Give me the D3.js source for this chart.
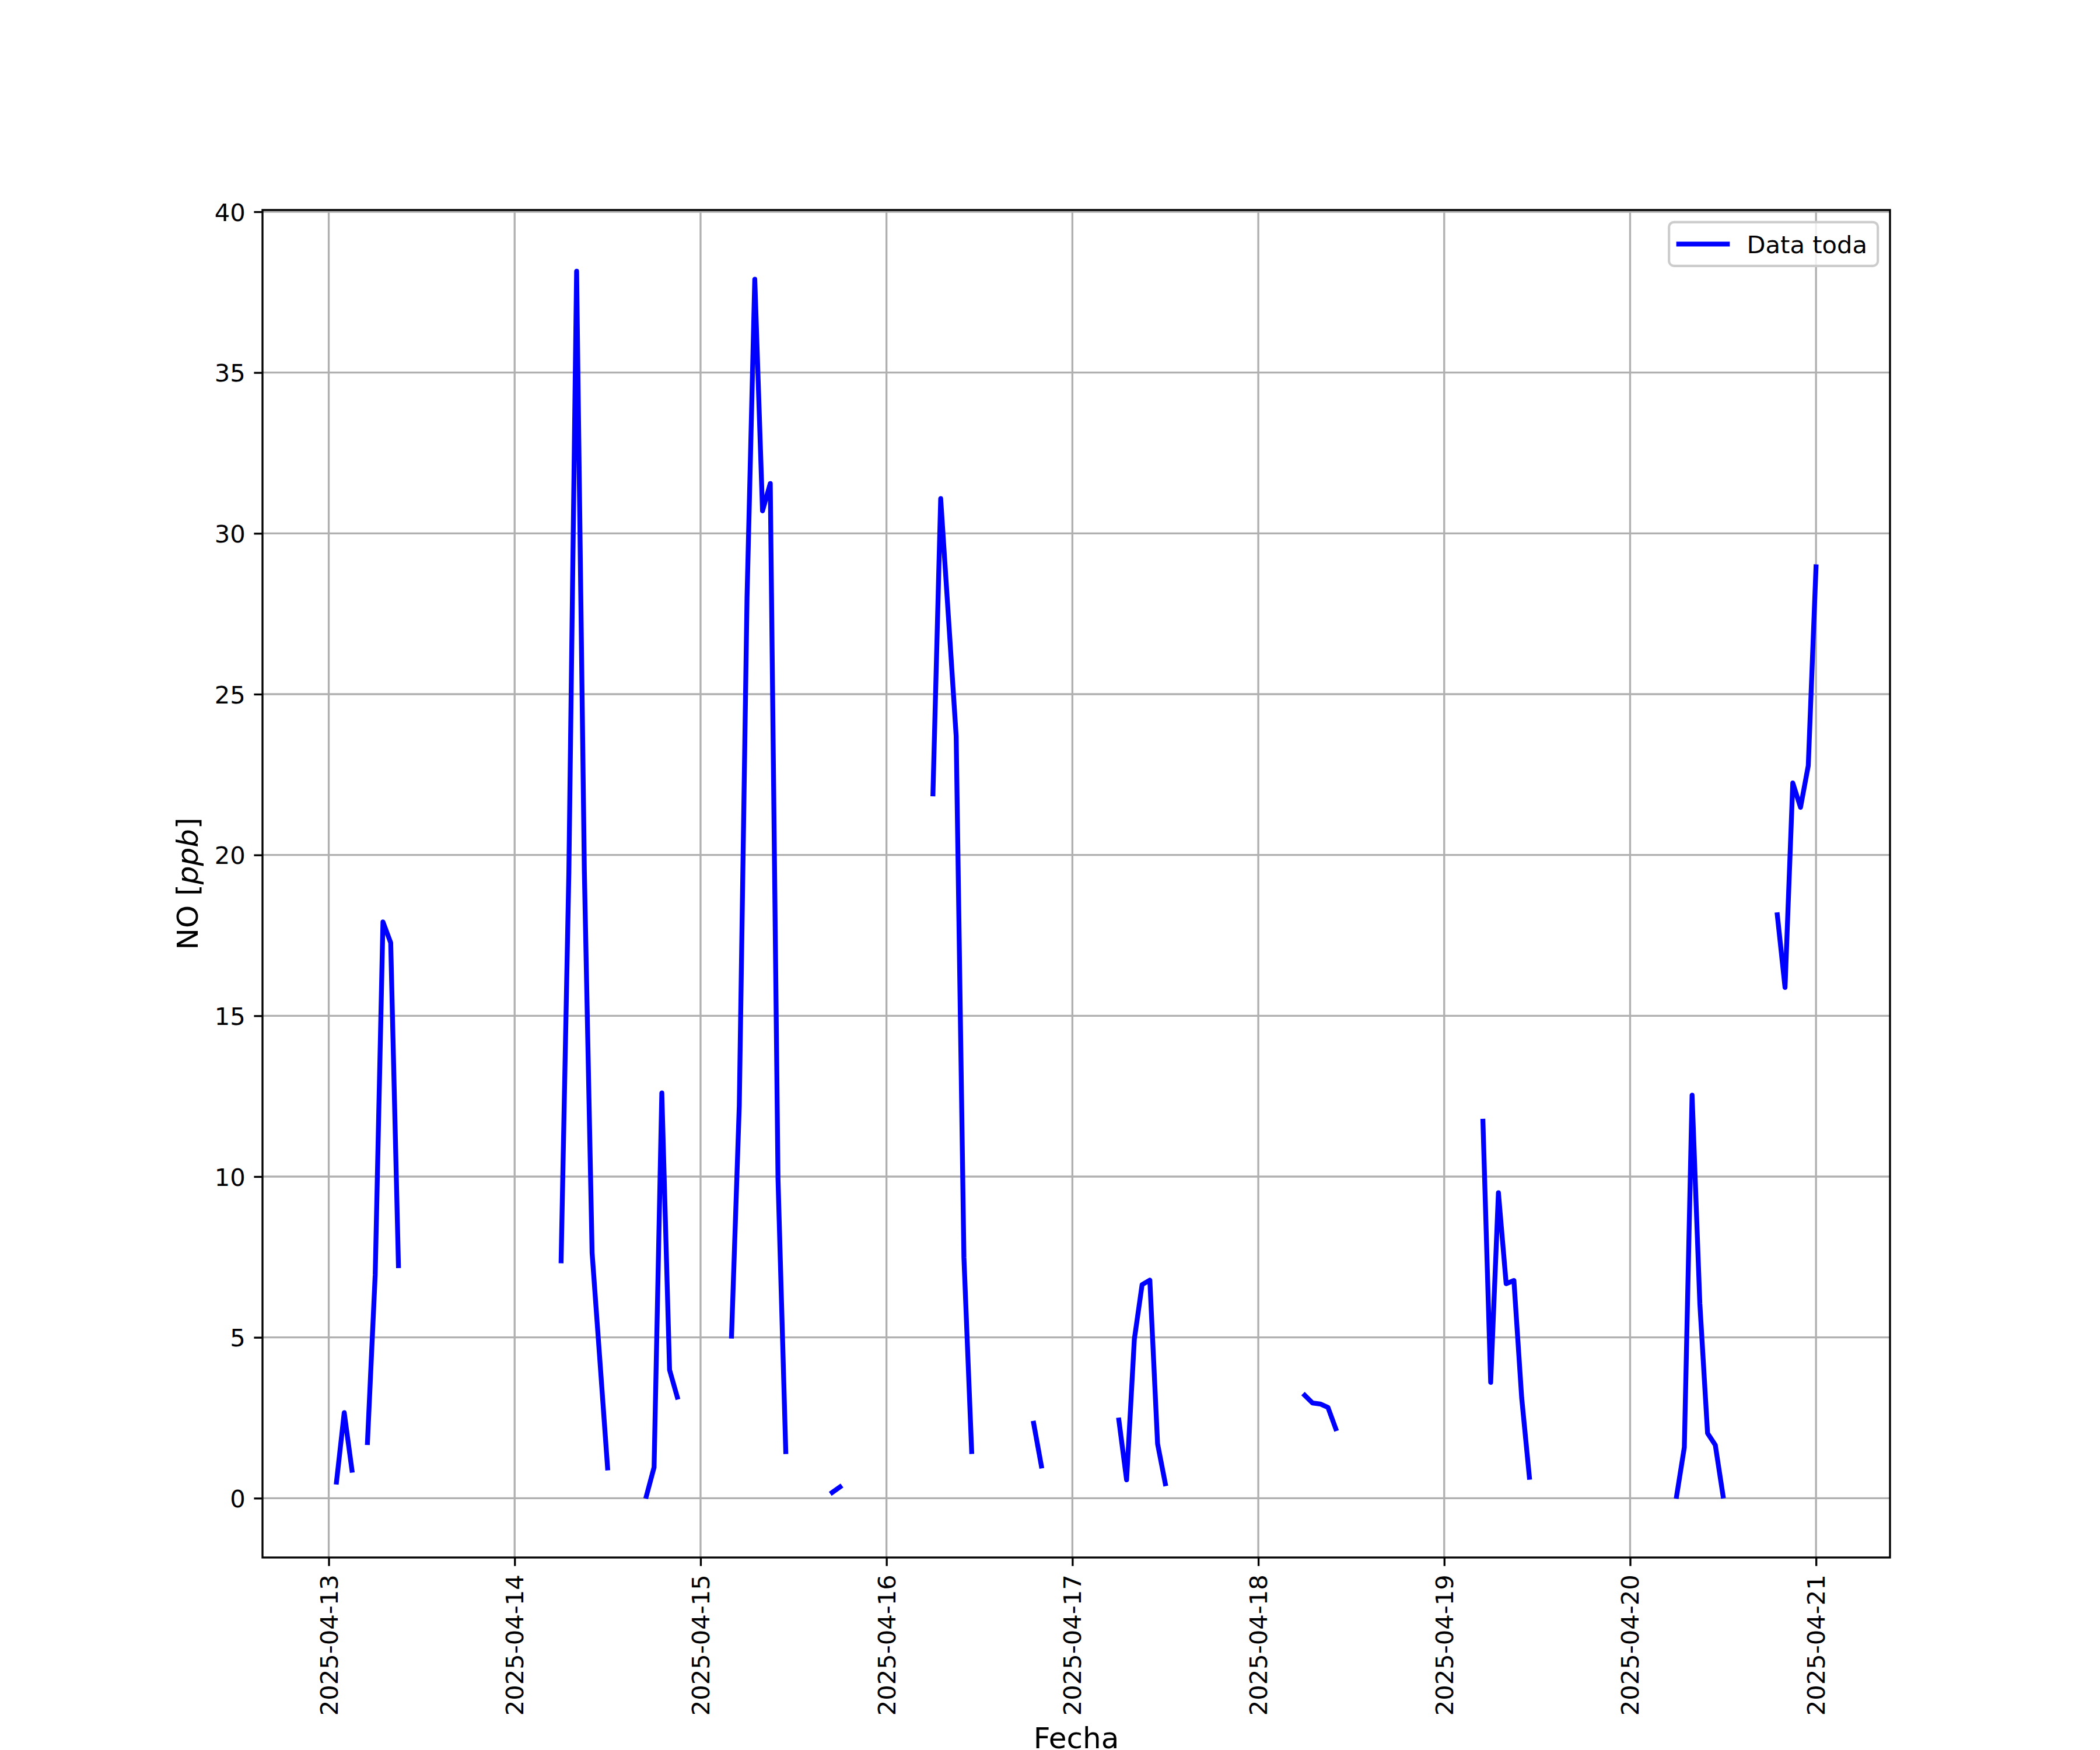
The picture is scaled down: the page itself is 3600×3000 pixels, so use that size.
<!DOCTYPE html>
<html>
<head>
<meta charset="utf-8">
<script src="https://cdn.jsdelivr.net/npm/d3@7"></script>
<style>
  html, body { margin: 0; padding: 0; background: #ffffff; }
  svg { display: block; }
  text { font-family: "DejaVu Sans", sans-serif; fill: #000; }
</style>
</head>
<body>
<script>
// ---- data (hourly measurements, gaps between segments are missing data) ----
const segmentStarts = [
  "2025-04-13T01:00", "2025-04-13T05:00", "2025-04-14T06:00", "2025-04-14T17:00",
  "2025-04-15T04:00", "2025-04-15T17:00", "2025-04-16T06:00", "2025-04-16T19:00",
  "2025-04-17T06:00", "2025-04-18T06:00", "2025-04-19T05:00", "2025-04-20T06:00",
  "2025-04-20T19:00"
];
const segmentValues = [
  [0.5, 2.66, 0.87],
  [1.73, 6.95, 17.92, 17.27, 7.23],
  [7.38, 19.47, 38.15, 19.5, 7.63, 4.3, 0.94],
  [0.06, 0.96, 12.6, 3.99, 3.14],
  [5.04, 12.2, 28.0, 37.9, 30.7, 31.55, 9.92, 1.45],
  [0.18, 0.35],
  [21.9, 31.08, 27.4, 23.7, 7.48, 1.45],
  [2.33, 1.0],
  [2.43, 0.57, 4.94, 6.64, 6.78, 1.69, 0.45],
  [3.2, 2.96, 2.93, 2.82, 2.16],
  [11.72, 3.6, 9.5, 6.67, 6.77, 3.13, 0.65],
  [0.06, 1.58, 12.53, 6.06, 2.02, 1.65, 0.07],
  [18.14, 15.88, 22.24, 21.48, 22.78, 28.96]
];
const xTickLabels = ["2025-04-13", "2025-04-14", "2025-04-15", "2025-04-16", "2025-04-17",
                     "2025-04-18", "2025-04-19", "2025-04-20", "2025-04-21"];
const yTicks = [0, 5, 10, 15, 20, 25, 30, 35, 40];
const seriesName = "Data toda";
const xLabel = "Fecha";

// ---- layout ----
const W = 3600, H = 3000;
const m = { left: 450, right: 3240, top: 360, bottom: 2670 };
const pt = 300 / 72;
const FS = 10 * pt;        // tick / legend font (10pt at 300 dpi)
const LFS = 12 * pt;       // axis label font (12pt)

const parse = d3.utcParse("%Y-%m-%dT%H:%M");
const parseDay = d3.utcParse("%Y-%m-%d");

const segments = segmentStarts.map((s, i) => {
  const t0 = parse(s);
  return segmentValues[i].map((v, k) => ({ t: d3.utcHour.offset(t0, k), v }));
});
const allPts = segments.flat();

const tExt = d3.extent(allPts, d => d.t);
const tPad = (tExt[1] - tExt[0]) * 0.05;
const vExt = d3.extent(allPts, d => d.v);
const vPad = (vExt[1] - vExt[0]) * 0.05;

const x = d3.scaleUtc()
  .domain([new Date(+tExt[0] - tPad), new Date(+tExt[1] + tPad)])
  .range([m.left, m.right]);
const y = d3.scaleLinear()
  .domain([vExt[0] - vPad, vExt[1] + vPad])
  .range([m.bottom, m.top]);

const svg = d3.select("body").append("svg")
  .attr("width", W).attr("height", H)
  .attr("viewBox", `0 0 ${W} ${H}`);
svg.append("rect").attr("width", W).attr("height", H).attr("fill", "#ffffff");

const xTickDates = xTickLabels.map(parseDay);

// grid
const grid = svg.append("g");
grid.selectAll("line.gx").data(xTickDates).join("line")
  .attr("x1", d => x(d)).attr("x2", d => x(d))
  .attr("y1", m.top).attr("y2", m.bottom)
  .attr("stroke", "#b0b0b0").attr("stroke-width", 0.8 * pt);
grid.selectAll("line.gy").data(yTicks).join("line")
  .attr("x1", m.left).attr("x2", m.right)
  .attr("y1", d => y(d)).attr("y2", d => y(d))
  .attr("stroke", "#b0b0b0").attr("stroke-width", 0.8 * pt);

// data line
const clipId = "plotclip";
svg.append("clipPath").attr("id", clipId).append("rect")
  .attr("x", m.left).attr("y", m.top)
  .attr("width", m.right - m.left).attr("height", m.bottom - m.top);
const line = d3.line().x(d => x(d.t)).y(d => y(d.v));
svg.append("g").attr("clip-path", `url(#${clipId})`)
  .selectAll("path").data(segments).join("path")
  .attr("d", line)
  .attr("fill", "none")
  .attr("stroke", "#0000ff")
  .attr("stroke-width", 2 * pt)
  .attr("stroke-linejoin", "round")
  .attr("stroke-linecap", "square");

// axes
const tickLen = 3.5 * pt, tickPad = 3.5 * pt;
const xAxis = d3.axisBottom(x).tickValues(xTickDates)
  .tickFormat((d, i) => xTickLabels[i]).tickSizeInner(tickLen).tickSizeOuter(0).tickPadding(tickPad);
const gx = svg.append("g").attr("transform", `translate(0,${m.bottom})`).call(xAxis);
gx.select(".domain").remove();
gx.selectAll(".tick line").attr("stroke", "#000").attr("stroke-width", 0.8 * pt);
gx.selectAll(".tick text")
  .attr("font-size", FS)
  .attr("font-family", "DejaVu Sans")
  .attr("text-anchor", "end")
  .attr("dy", null)
  .attr("y", null)
  .attr("transform", `translate(0,${tickLen + tickPad}) rotate(-90)`)
  .attr("dominant-baseline", "central");

const yAxis = d3.axisLeft(y).tickValues(yTicks).tickFormat(d3.format("d"))
  .tickSizeInner(tickLen).tickSizeOuter(0).tickPadding(tickPad);
const gy = svg.append("g").attr("transform", `translate(${m.left},0)`).call(yAxis);
gy.select(".domain").remove();
gy.selectAll(".tick line").attr("stroke", "#000").attr("stroke-width", 0.8 * pt);
gy.selectAll(".tick text")
  .attr("font-size", FS).attr("font-family", "DejaVu Sans")
  .attr("dy", "0.365em");

// frame
svg.append("rect")
  .attr("x", m.left).attr("y", m.top)
  .attr("width", m.right - m.left).attr("height", m.bottom - m.top)
  .attr("fill", "none").attr("stroke", "#000").attr("stroke-width", 0.8 * pt);

// axis labels
svg.append("text")
  .attr("x", (m.left + m.right) / 2).attr("y", 2997)
  .attr("text-anchor", "middle").attr("font-size", LFS)
  .text(xLabel);

const yl = svg.append("text")
  .attr("transform", `translate(339,${(m.top + m.bottom) / 2}) rotate(-90)`)
  .attr("text-anchor", "middle").attr("font-size", LFS);
yl.append("tspan").text("NO [");
yl.append("tspan").attr("font-style", "italic").text("ppb");
yl.append("tspan").text("]");

// legend
const lg = svg.append("g");
const lgRight = m.right - 0.5 * FS, lgTop = m.top + 0.5 * FS;
const lgW = 358, lgH = 75;
lg.append("rect")
  .attr("x", lgRight - lgW).attr("y", lgTop)
  .attr("width", lgW).attr("height", lgH)
  .attr("rx", 0.2 * FS).attr("ry", 0.2 * FS)
  .attr("fill", "#ffffff").attr("fill-opacity", 0.8)
  .attr("stroke", "#cccccc").attr("stroke-width", 1 * pt);
const hx0 = lgRight - lgW + 0.4 * FS;
const hy = lgTop + lgH / 2;
lg.append("line")
  .attr("x1", hx0).attr("x2", hx0 + 2 * FS)
  .attr("y1", hy).attr("y2", hy)
  .attr("stroke", "#0000ff").attr("stroke-width", 2 * pt)
  .attr("stroke-linecap", "square");
lg.append("text")
  .attr("x", hx0 + 2 * FS + 0.8 * FS).attr("y", hy)
  .attr("dy", "0.365em")
  .attr("font-size", FS)
  .text(seriesName);
</script>
</body>
</html>
